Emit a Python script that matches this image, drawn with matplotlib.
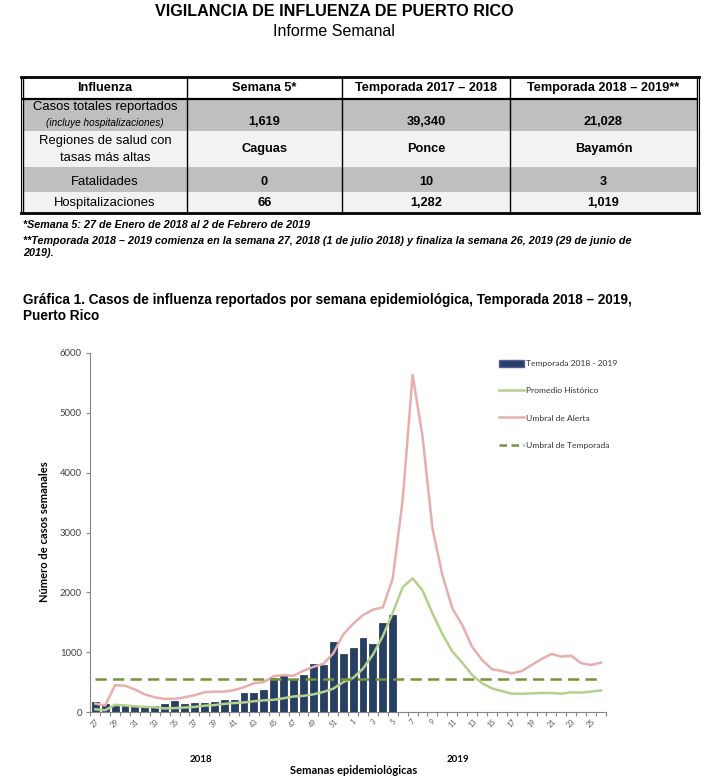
import numpy as np
import matplotlib
matplotlib.use("Agg")
import matplotlib.pyplot as plt
from matplotlib.patches import Rectangle, Patch
from matplotlib.lines import Line2D

# =========================
# 1. Data
# =========================
semanas = [27, 28, 29, 30, 31, 32, 33, 34, 35, 36, 37, 38, 39, 40, 41, 42, 43, 44, 45, 46,
           47, 48, 49, 50, 51, 52, 1, 2, 3, 4, 5, 6, 7, 8, 9, 10, 11, 12, 13, 14,
           15, 16, 17, 18, 19, 20, 21, 22, 23, 24, 25, 26]

# casos reportados, temporada 2018 - 2019 (semanas 27 a 5)
casos = [160, 140, 100, 100, 95, 85, 100, 135, 180, 135, 145, 155, 160, 205, 200, 320,
         320, 375, 570, 625, 540, 620, 810, 790, 1170, 970, 1070, 1245, 1140, 1485, 1619]

promedio = [45, 30, 120, 110, 95, 85, 80, 60, 65, 75, 85, 105, 115, 135, 150, 160,
            180, 195, 205, 230, 260, 270, 295, 335, 390, 500, 570, 725, 960, 1270, 1660,
            2085, 2235, 2030, 1650, 1305, 1010, 825, 620, 480, 395, 350, 305, 305, 310,
            318, 318, 305, 330, 325, 340, 360]

alerta = [140, 110, 450, 440, 375, 295, 245, 220, 220, 245, 280, 330, 340, 340, 365, 415,
          480, 500, 600, 615, 605, 690, 755, 805, 980, 1295, 1475, 1620, 1710, 1750, 2235,
          3545, 5635, 4605, 3070, 2290, 1735, 1455, 1090, 870, 715, 685, 645, 685, 785,
          885, 970, 925, 940, 815, 785, 825]

umbral_temporada = 545

# table contents
tabla_header = ["Influenza", "Semana 5*", "Temporada 2017 \u2013 2018", "Temporada 2018 \u2013 2019**"]
tabla_casos = ["1,619", "39,340", "21,028"]
tabla_regiones = ["Caguas", "Ponce", "Bayamón"]
tabla_fatalidades = ["0", "10", "3"]
tabla_hosp = ["66", "1,282", "1,019"]

# =================
# 2. Figure / fonts
# =================
W, H = 709, 782
fig = plt.figure(figsize=(W / 100, H / 100), dpi=100)
arial = "Liberation Sans"
calibri = "Lato"

# page layer in pixel coordinates
bg = fig.add_axes([0, 0, 1, 1])
bg.set_xlim(0, W)
bg.set_ylim(H, 0)
bg.axis("off")

bg.text(334, 12, "VIGILANCIA DE INFLUENZA DE PUERTO RICO", family=arial, weight="bold",
        fontsize=11.6, ha="center", va="center")
bg.text(334, 31.5, "Informe Semanal", family=arial, fontsize=11.5, ha="center", va="center")

# ===========
# 3. Table
# ===========
cols = [23, 187, 342, 510, 697]
rows = [77, 99, 131, 167, 192, 213]
fills = ["white", "#BFBFBF", "#F2F2F2", "#BFBFBF", "#F2F2F2"]
for i, c in enumerate(fills):
    bg.add_patch(Rectangle((cols[0], rows[i]), cols[-1] - cols[0], rows[i + 1] - rows[i],
                           facecolor=c, edgecolor="none", zorder=1))
for xv in cols[1:-1]:
    bg.plot([xv, xv], [rows[0], rows[-1]], color="black", lw=1.0, zorder=3)
bg.plot([cols[0], cols[-1]], [rows[1], rows[1]], color="black", lw=1.6, zorder=3)
bg.plot([cols[0] - 2, cols[-1] + 2], [rows[0], rows[0]], color="black", lw=2.0, zorder=3)
bg.plot([cols[0] - 2, cols[-1] + 2], [rows[-1], rows[-1]], color="black", lw=2.0, zorder=3)
for xv in [cols[0], cols[-1]]:
    bg.plot([xv, xv], [rows[0], rows[-1]], color="black", lw=1.0, zorder=3)
for xv in [cols[0] - 2, cols[-1] + 2]:
    bg.plot([xv, xv], [rows[0], rows[-1]], color="black", lw=0.8, zorder=3)

centers = [(cols[i] + cols[i + 1]) / 2 for i in range(4)]
for cx, t in zip(centers, tabla_header):
    bg.text(cx, 88, t, family=arial, weight="bold", fontsize=9.2, ha="center", va="center", zorder=4)

bg.text(centers[0], 107, "Casos totales reportados", family=arial, fontsize=9.4,
        ha="center", va="center", zorder=4)
bg.text(centers[0], 123.5, "(incluye hospitalizaciones)", family=arial, style="italic",
        fontsize=7.2, ha="center", va="center", zorder=4)
bg.text(centers[0], 141, "Regiones de salud con", family=arial, fontsize=9.4,
        ha="center", va="center", zorder=4)
bg.text(centers[0], 158, "tasas más altas", family=arial, fontsize=9.4,
        ha="center", va="center", zorder=4)
bg.text(centers[0], 182, "Fatalidades", family=arial, fontsize=9.4, ha="center", va="center", zorder=4)
bg.text(centers[0], 203, "Hospitalizaciones", family=arial, fontsize=9.4, ha="center", va="center", zorder=4)

for vals, yv in [(tabla_casos, 122), (tabla_regiones, 149), (tabla_fatalidades, 182), (tabla_hosp, 203)]:
    for cx, v in zip(centers[1:], vals):
        bg.text(cx, yv, v, family=arial, weight="bold", fontsize=9.2, ha="center", va="center", zorder=4)

# ==========
# 4. Notes
# ==========
bg.text(23, 224.5, "*Semana 5: 27 de Enero de 2018 al 2 de Febrero de 2019", family=arial,
        weight="bold", style="italic", fontsize=7.75, ha="left", va="center")
bg.text(23, 241.5, "**Temporada 2018 \u2013 2019 comienza en la semana 27, 2018 (1 de julio 2018) "
        "y finaliza la semana 26, 2019 (29 de junio de", family=arial,
        weight="bold", style="italic", fontsize=7.75, ha="left", va="center")
bg.text(23, 253.5, "2019).", family=arial, weight="bold", style="italic", fontsize=7.75,
        ha="left", va="center")

bg.text(23, 300, "Gráfica 1. Casos de influenza reportados por semana epidemiológica, "
        "Temporada 2018 \u2013 2019,", family=arial, weight="bold", fontsize=9.8, ha="left", va="center")
bg.text(23, 316, "Puerto Rico", family=arial, weight="bold", fontsize=9.8, ha="left", va="center")

# ==========
# 5. Chart
# ==========
ax = fig.add_axes([90.3 / W, 1 - 712 / H, (606 - 90.3) / W, (712 - 353) / H])
ax.set_facecolor("none")
x = np.arange(len(semanas))
xb = np.arange(len(casos))

navy = "#263F64"
ax.bar(xb, casos, width=0.7, color=navy, edgecolor="#1B2E4B", linewidth=0.5, zorder=2)
ax.plot(x, promedio, color="#B5D08C", lw=1.8, zorder=3)
ax.plot(x, alerta, color="#E8AEAE", lw=1.8, zorder=3)
ax.plot(x, np.full(len(semanas), umbral_temporada), color="#77933C", lw=1.8,
        dashes=(4.5, 2.5), zorder=4)

ax.set_xlim(-0.5, len(semanas) - 0.5)
ax.set_ylim(0, 6000)
ax.set_yticks(range(0, 6001, 1000))
ax.set_xticks(x[::2])
ax.set_xticklabels([str(s) for s in semanas[::2]], rotation=45, ha="center",
                   fontsize=5.2, color="#595959", family=calibri)
ax.set_xticks(np.arange(-0.5, len(semanas), 1), minor=True)
ax.tick_params(axis="x", which="major", length=0, pad=4)
ax.tick_params(axis="x", which="minor", length=3, color="#868686", width=0.8)
ax.tick_params(axis="y", length=3, color="#868686", width=0.8, labelsize=6.8,
               labelcolor="#404040", pad=3)
for lab in ax.get_yticklabels():
    lab.set_family(calibri)
for s in ["top", "right"]:
    ax.spines[s].set_visible(False)
for s in ["left", "bottom"]:
    ax.spines[s].set_color("#868686")
    ax.spines[s].set_linewidth(0.8)

bg.text(45, 532, "Número de casos semanales", family=calibri, weight="bold", fontsize=8,
        rotation=90, ha="center", va="center")
bg.text(201, 760, "2018", family=calibri, weight="bold", fontsize=7, ha="center", va="center")
bg.text(458, 760, "2019", family=calibri, weight="bold", fontsize=7, ha="center", va="center")
bg.text(354, 771, "Semanas epidemiológicas", family=calibri, weight="bold", fontsize=8,
        ha="center", va="center")

# ==========
# 6. Legend
# ==========
handles = [Patch(facecolor=navy, edgecolor="#5D5A9A"),
           Line2D([], [], color="#B5D08C", lw=1.8),
           Line2D([], [], color="#E8AEAE", lw=1.8),
           Line2D([], [], color="#77933C", lw=1.8, dashes=(3, 1.8))]
labels = ["Temporada 2018 - 2019", "Promedio Histórico", "Umbral de Alerta", "Umbral de Temporada"]
fig.legend(handles, labels, loc="upper left", bbox_to_anchor=(499 / W, 1 - 359.5 / H),
           frameon=False, prop={"family": calibri, "size": 6.1}, handlelength=3.0,
           handleheight=0.9, handletextpad=0.15, labelspacing=2.35, borderpad=0,
           borderaxespad=0, labelcolor="#333333")

fig.savefig("out.png", dpi=100)
